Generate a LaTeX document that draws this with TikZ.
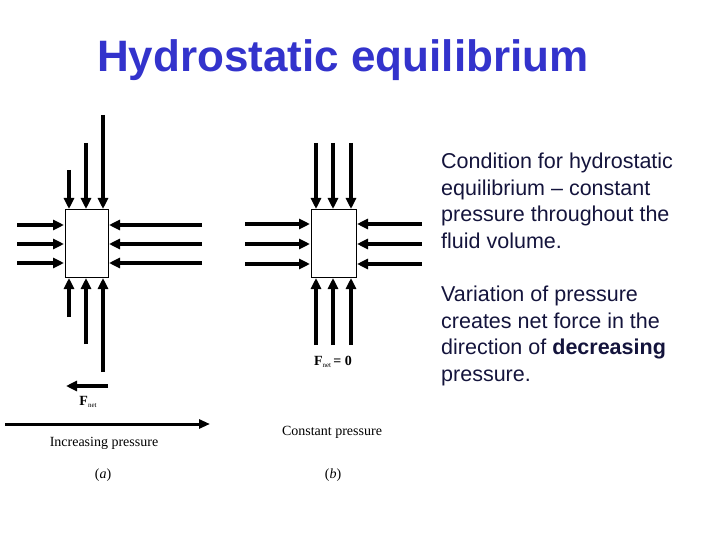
\documentclass[tikz,border=0pt]{standalone}
\usepackage{fontspec}
\setmainfont{Liberation Serif}
\setsansfont{Liberation Sans}
\usetikzlibrary{arrows.meta}
\definecolor{ttl}{RGB}{51,51,204}
\definecolor{txt}{RGB}{20,20,60}
\begin{document}
\begin{tikzpicture}[x=1pt,y=-1pt,
  force/.style={line width=3.8pt,-{Triangle[length=11pt,width=10pt]}},
  boxst/.style={draw,line width=0.8pt,fill=white,inner sep=0pt},
  lab/.style={font=\fontsize{14}{16}\selectfont}]
\useasboundingbox (0,0) rectangle (720,540);
\node[font=\sffamily\bfseries\fontsize{44}{50}\selectfont,text=ttl,anchor=west,inner sep=0pt] (title) at (97,60) {Hydrostatic equilibrium};
% (a)
\node[boxst,minimum width=43pt,minimum height=68pt] (A) at (86.5,243) {};
\foreach \x/\y in {69/170,86/143,103/115}{
  \coordinate (t) at (\x,\y); \coordinate (h) at (\x,209);
  \draw[force] (t) -- (h);}
\foreach \x/\y in {69/317,86/344,103/372}{
  \coordinate (t) at (\x,\y); \coordinate (h) at (\x,278);
  \draw[force] (t) -- (h);}
\foreach \y in {225,244,263}{
  \coordinate (t) at (17,\y); \coordinate (h) at (64,\y);
  \draw[force] (t) -- (h);
  \coordinate (t) at (202,\y); \coordinate (h) at (109,\y);
  \draw[force] (t) -- (h);}
\coordinate (f1) at (108,386); \coordinate (f2) at (66,386);
\draw[force] (f1) -- (f2);
\node[lab] (fa) at (88,402) {\textbf{F}\raisebox{-0.4ex}{\scriptsize net}};
\coordinate (i1) at (5,424); \coordinate (i2) at (210,424);
\draw[line width=3pt,-{Triangle[length=11pt,width=9pt]}] (i1) -- (i2);
\node[lab] (ip) at (104,443) {Increasing pressure};
\node[lab] (la) at (103,475) {(\textit{a})};
% (b)
\node[boxst,minimum width=45pt,minimum height=68pt] (B) at (333.5,243) {};
\foreach \x in {316,333,351}{
  \coordinate (t) at (\x,143); \coordinate (h) at (\x,209);
  \draw[force] (t) -- (h);
  \coordinate (t) at (\x,345); \coordinate (h) at (\x,278);
  \draw[force] (t) -- (h);}
\foreach \y in {224,244,264}{
  \coordinate (t) at (245,\y); \coordinate (h) at (310,\y);
  \draw[force] (t) -- (h);
  \coordinate (t) at (422,\y); \coordinate (h) at (357,\y);
  \draw[force] (t) -- (h);}
\node[lab] (fb) at (333,362) {\textbf{F}\raisebox{-0.4ex}{\scriptsize net}\,\textbf{= 0}};
\node[lab] (cp) at (332,432) {Constant pressure};
\node[lab] (lb) at (333,475) {(\textit{b})};
% text
\node[font=\sffamily\fontsize{21.5}{26.5}\selectfont,text=txt,anchor=north west,align=left,inner sep=0pt] (t1) at (441,153)
 {Condition for hydrostatic\\equilibrium -- constant\\pressure throughout the\\fluid volume.};
\node[font=\sffamily\fontsize{21.5}{26.5}\selectfont,text=txt,anchor=north west,align=left,inner sep=0pt] (t2) at (441,286)
 {Variation of pressure\\creates net force in the\\direction of \textbf{decreasing}\\pressure.};
\end{tikzpicture}
\end{document}
